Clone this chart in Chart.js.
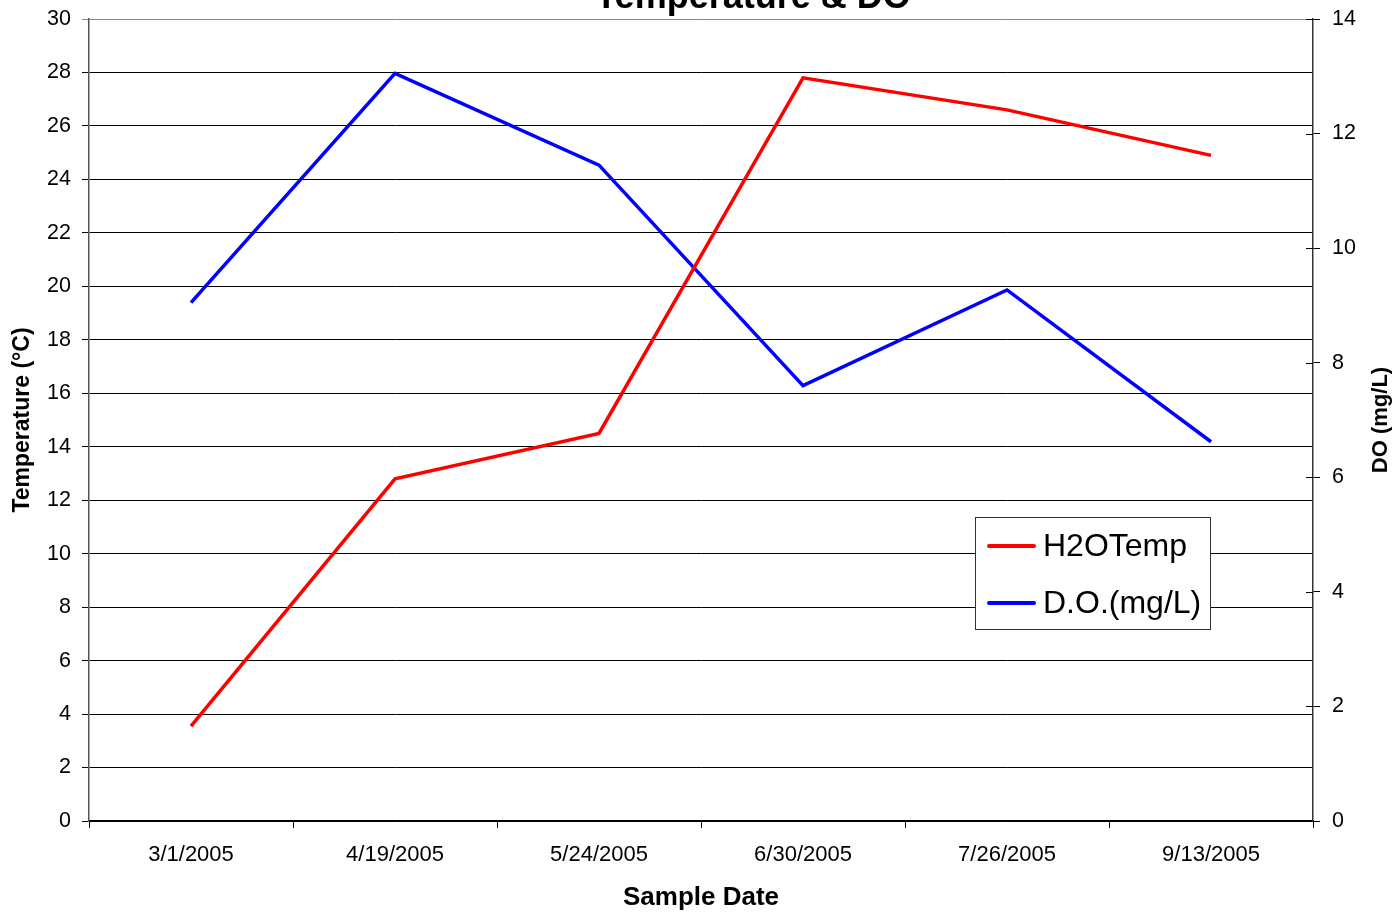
<!DOCTYPE html>
<html lang="en">
<head>
    <meta charset="UTF-8">
    <title>Temperature & DO</title>
    <script src="https://cdn.jsdelivr.net/npm/chart.js"></script>
    <style>
        body { margin: 0; background: #fff; }
    </style>
</head>
<body>
    <canvas id="chart" width="1395" height="913"></canvas>
    <script>
        const sampleDates = ['3/1/2005', '4/19/2005', '5/24/2005', '6/30/2005', '7/26/2005', '9/13/2005'];
        const h2oTemp = [3.55, 12.8, 14.5, 27.8, 26.6, 24.9];
        const dissolvedO2 = [9.05, 13.05, 11.45, 7.6, 9.27, 6.62];

        const FONT = '"Liberation Sans", Arial, sans-serif';

        // title sits mostly above the canvas in the original, only its bottom shows
        const topTitle = {
            id: 'topTitle',
            afterDraw(chart) {
                const ctx = chart.ctx;
                ctx.save();
                ctx.font = 'bold 36px ' + FONT;
                ctx.fillStyle = '#000';
                ctx.textAlign = 'center';
                ctx.textBaseline = 'alphabetic';
                ctx.fillText('Temperature & DO', 753, 8);
                ctx.restore();
            }
        };

        // right axis title reads bottom-to-top, plus inner tick marks on that axis
        const rightAxisExtras = {
            id: 'rightAxisExtras',
            afterDraw(chart) {
                const ctx = chart.ctx;
                const s = chart.scales.y2;
                ctx.save();
                ctx.strokeStyle = '#000';
                ctx.lineWidth = 1;
                s.ticks.forEach(t => {
                    const y = Math.round(s.getPixelForValue(t.value)) + 0.5;
                    ctx.beginPath();
                    ctx.moveTo(s.left - 7, y);
                    ctx.lineTo(s.left, y);
                    ctx.stroke();
                });
                ctx.translate(1381, 420);
                ctx.rotate(-Math.PI / 2);
                ctx.font = 'bold 22px ' + FONT;
                ctx.fillStyle = '#000';
                ctx.textAlign = 'center';
                ctx.textBaseline = 'middle';
                ctx.fillText('DO (mg/L)', 0, 0);
                ctx.restore();
            }
        };

        const boxLegend = {
            id: 'boxLegend',
            afterDraw(chart) {
                const ctx = chart.ctx;
                ctx.save();
                ctx.fillStyle = '#fff';
                ctx.fillRect(975.5, 517.5, 235, 112);
                ctx.strokeStyle = '#333';
                ctx.lineWidth = 1;
                ctx.strokeRect(975.5, 517.5, 235, 112);
                chart.data.datasets.forEach((ds, i) => {
                    const y = 546 + i * 57;
                    ctx.strokeStyle = ds.borderColor;
                    ctx.lineWidth = 4;
                    ctx.lineCap = 'round';
                    ctx.beginPath();
                    ctx.moveTo(989, y);
                    ctx.lineTo(1034, y);
                    ctx.stroke();
                    ctx.fillStyle = '#000';
                    ctx.font = '32px ' + FONT;
                    ctx.textBaseline = 'middle';
                    ctx.fillText(ds.label, 1043, y + 1);
                });
                ctx.restore();
            }
        };

        function fitVertical(width) {
            return scale => {
                scale.width = width;
                scale.paddingTop = 0;
                scale.paddingBottom = 0;
            };
        }

        new Chart(document.getElementById('chart'), {
            type: 'line',
            data: {
                labels: sampleDates,
                datasets: [{
                    label: 'H2OTemp',
                    data: h2oTemp,
                    borderColor: '#ff0000',
                    borderWidth: 3.5,
                    pointRadius: 0,
                    tension: 0,
                    yAxisID: 'y'
                }, {
                    label: 'D.O.(mg/L)',
                    data: dissolvedO2,
                    borderColor: '#0000ff',
                    borderWidth: 3.5,
                    pointRadius: 0,
                    tension: 0,
                    yAxisID: 'y2'
                }]
            },
            options: {
                responsive: false,
                animation: false,
                devicePixelRatio: 1,
                layout: { padding: { top: 19, left: 0, right: 0, bottom: 0 } },
                plugins: {
                    legend: { display: false },
                    title: { display: false },
                    tooltip: { enabled: false }
                },
                scales: {
                    x: {
                        offset: true,
                        grid: {
                            offset: true,
                            drawOnChartArea: false,
                            tickLength: 7,
                            color: '#000'
                        },
                        border: { color: '#000', width: 1.5 },
                        ticks: {
                            color: '#000',
                            font: { family: FONT, size: 22 },
                            padding: 14,
                            maxRotation: 0
                        },
                        title: {
                            display: true,
                            text: 'Sample Date',
                            color: '#000',
                            font: { family: FONT, size: 26, weight: 'bold' },
                            padding: { top: 0, bottom: 0 }
                        },
                        afterFit(scale) {
                            scale.height = 92;
                            scale.paddingLeft = 0;
                            scale.paddingRight = 0;
                        }
                    },
                    y: {
                        position: 'left',
                        min: 0,
                        max: 30,
                        ticks: {
                            stepSize: 2,
                            color: '#000',
                            font: { family: FONT, size: 21.5 },
                            padding: 11
                        },
                        grid: {
                            color: ctx => ctx.tick && ctx.tick.value === 30 ? '#888' : '#000',
                            tickLength: 7,
                            lineWidth: 1
                        },
                        border: { color: '#555', width: 1.5 },
                        title: {
                            display: true,
                            text: 'Temperature (°C)',
                            color: '#000',
                            font: { family: FONT, size: 23, weight: 'bold' },
                            padding: { top: 9, bottom: 0 }
                        },
                        afterFit: fitVertical(89)
                    },
                    y2: {
                        position: 'right',
                        min: 0,
                        max: 14,
                        ticks: {
                            stepSize: 2,
                            color: '#000',
                            font: { family: FONT, size: 21.5 },
                            padding: 12
                        },
                        grid: {
                            drawOnChartArea: false,
                            color: '#000',
                            tickLength: 7
                        },
                        border: { color: '#333', width: 1.5 },
                        afterFit: fitVertical(82)
                    }
                }
            },
            plugins: [topTitle, rightAxisExtras, boxLegend]
        });
    </script>
</body>
</html>
